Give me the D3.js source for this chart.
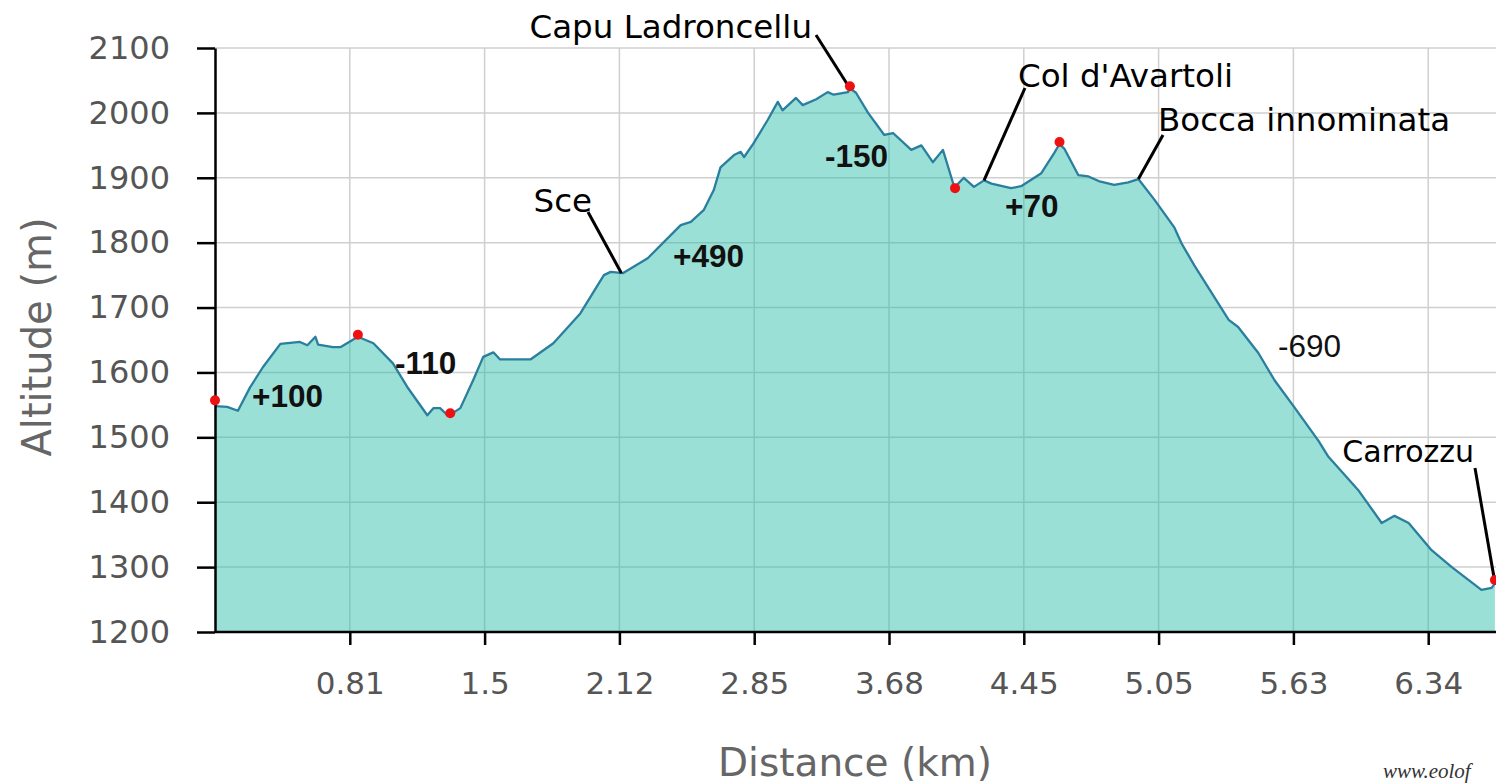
<!DOCTYPE html>
<meta charset="utf-8">
<style>
body { margin: 0; background: #fff; }
svg { display: block; }
</style>
<body>
<script src="https://d3js.org/d3.v7.min.js"></script>
<script>

// sample number along the track (20 samples between labelled ticks) and altitude (m)
var pt = [0, 1.8, 3.4, 5.2, 7.1, 9.7, 12.6, 13.7, 14.9, 15.3, 17.5, 18.6, 21.2, 23.5, 26.4, 28.5,
  31.5, 32.4, 33.4, 34.5, 34.9, 36.4, 38.3, 39.8, 41.3, 42.3, 46.8, 50.2, 54.2, 57.7, 58.7, 60.5,
  64.2, 69.1, 70.6, 72.5, 74.0, 75.0, 77.0, 78.0, 78.5, 79.9, 82.0, 83.5, 84.2, 86.2, 87.2, 89.2,
  90.9, 91.8, 93.9, 94.2, 95.1, 96.9, 99.3, 100.6, 103.3, 104.8, 106.5, 108.0, 109.5, 109.8, 111.1,
  112.6, 114.1, 115.2, 118.1, 119.6, 122.6, 124.5, 125.3, 126.0, 128.1, 129.6, 131.1, 133.4, 135.5,
  137.0, 139.4, 142.3, 143.4, 145.3, 146.4, 150.4, 151.8, 154.8, 157.2, 160.1, 163.7, 165.2, 169.6,
  173.1, 175.0, 177.1, 180.5, 183.5, 187.9, 189.4, 189.9];
var alt = [1548, 1547, 1541, 1577, 1608, 1644, 1647, 1642, 1655, 1643, 1639, 1639, 1655, 1645, 1614, 1578,
  1534, 1545, 1545, 1534, 1535, 1545, 1588, 1624, 1631, 1620, 1620, 1645, 1691, 1750, 1755, 1753,
  1776, 1827, 1832, 1850, 1881, 1916, 1935, 1940, 1932, 1953, 1989, 2017, 2004, 2023, 2012, 2021,
  2032, 2028, 2032, 2038, 2031, 2000, 1966, 1969, 1943, 1950, 1924, 1943, 1892, 1886, 1900,
  1886, 1896, 1891, 1884, 1887, 1907, 1938, 1952, 1945, 1904, 1902, 1895, 1889, 1893,
  1898, 1866, 1824, 1799, 1765, 1747, 1681, 1670, 1630, 1588, 1547, 1495, 1470, 1419,
  1368, 1379, 1368, 1326, 1300, 1265, 1268, 1275];

var tickPts = [20, 40, 60, 80, 100, 120, 140, 160, 180];
var tickKm = ["0.81", "1.5", "2.12", "2.85", "3.68", "4.45", "5.05", "5.63", "6.34"];
var altTicks = [1200, 1300, 1400, 1500, 1600, 1700, 1800, 1900, 2000, 2100];

// red markers
var markPt = [0, 21.2, 34.9, 94.2, 109.8, 125.3, 189.9];
var markAlt = [1557, 1658, 1537, 2041, 1884, 1955, 1280];

// named places
var placeNames = ["Capu Ladroncellu", "Sce", "Col d'Avartoli", "Bocca innominata", "Carrozzu"];
var placePt = [94.0, 60.3, 114.1, 137.0, 189.9];
var placeAlt = [2041, 1753, 1896, 1898, 1276];

// climb / descent between points
var segText = ["+100", "-110", "+490", "-150", "+70", "-690"];

var width = 1496, height = 784;

var svg = d3.select("body").append("svg")
    .attr("width", width)
    .attr("height", height);

var x = d3.scaleLinear().domain([0, 190]).range([215, 1495.6]);
var y = d3.scaleLinear().domain([1200, 2100]).range([632, 48]);

var data = pt.map(function(p, i) { return {p: p, a: alt[i]}; });

// grid
var grid = svg.append("g");
grid.selectAll(".gy").data(altTicks).enter().append("line")
    .attr("x1", 215).attr("x2", width)
    .attr("y1", function(d) { return y(d); }).attr("y2", function(d) { return y(d); })
    .attr("stroke", "#cfcfcf").attr("stroke-width", 1.5);
grid.selectAll(".gx").data(tickPts).enter().append("line")
    .attr("x1", function(d) { return x(d); }).attr("x2", function(d) { return x(d); })
    .attr("y1", y(2100)).attr("y2", y(1200))
    .attr("stroke", "#cfcfcf").attr("stroke-width", 1.5);

// area + line
var area = d3.area()
    .x(function(d) { return x(d.p); })
    .y0(y(1200))
    .y1(function(d) { return y(d.a); });
var line = d3.line()
    .x(function(d) { return x(d.p); })
    .y(function(d) { return y(d.a); });

svg.append("path").datum(data)
    .attr("d", area)
    .attr("fill", "rgb(40,189,168)")
    .attr("fill-opacity", 0.47);
svg.append("path").datum(data)
    .attr("d", line)
    .attr("fill", "none")
    .attr("stroke", "#2a7f9e")
    .attr("stroke-width", 2.3)
    .attr("stroke-linejoin", "round");

// axes
var yAxis = svg.append("g")
    .attr("transform", "translate(215,0)")
    .call(d3.axisLeft(y).tickValues(altTicks).tickFormat(d3.format("d"))
      .tickSize(18).tickSizeOuter(0).tickPadding(27));
var xAxis = svg.append("g")
    .attr("transform", "translate(0,632)")
    .call(d3.axisBottom(x).tickValues(tickPts).tickSize(13).tickSizeOuter(0).tickPadding(27)
      .tickFormat(function(d, i) { return tickKm[i]; }));
xAxis.select(".domain").attr("d", "M215,0H" + width);

[yAxis, xAxis].forEach(function(g) {
  g.select(".domain").attr("stroke", "#000").attr("stroke-width", 2.5);
  g.selectAll(".tick line").attr("stroke", "#000").attr("stroke-width", 2.5);
  g.selectAll(".tick text")
    .attr("font-family", "DejaVu Sans")
    .attr("font-size", 31)
    .attr("fill", "#555");
});
yAxis.selectAll(".tick text").attr("font-size", 32);

svg.append("text")
    .attr("transform", "translate(51,337) rotate(-90)")
    .attr("text-anchor", "middle")
    .attr("font-family", "DejaVu Sans")
    .attr("font-size", 40)
    .attr("fill", "#666")
    .text("Altitude (m)");
svg.append("text")
    .attr("x", 855).attr("y", 776)
    .attr("text-anchor", "middle")
    .attr("font-family", "DejaVu Sans")
    .attr("font-size", 39)
    .attr("fill", "#666")
    .text("Distance (km)");

// place labels with leader lines
var placeLayout = [
  {lx: 816, ly: 35, tx: 812, ty: 38, anchor: "end"},
  {lx: 588, ly: 212, tx: 592, ty: 212, anchor: "end"},
  {lx: 1025, ly: 88, tx: 1018, ty: 87, anchor: "start"},
  {lx: 1163, ly: 135, tx: 1158, ty: 131, anchor: "start"},
  {lx: 1475, ly: 468, tx: 1474, ty: 462, anchor: "end"}
];
placeNames.forEach(function(name, i) {
  var L = placeLayout[i];
  svg.append("line")
    .attr("x1", x(placePt[i])).attr("y1", y(placeAlt[i]))
    .attr("x2", L.lx).attr("y2", L.ly)
    .attr("stroke", "#000").attr("stroke-width", 3);
  svg.append("text")
    .attr("x", L.tx).attr("y", L.ty)
    .attr("text-anchor", L.anchor)
    .attr("font-family", "DejaVu Sans")
    .attr("font-size", i === 4 ? 30 : 32.5)
    .attr("fill", "#000")
    .text(name);
});

// markers
svg.selectAll(".mark").data(markPt).enter().append("circle")
    .attr("cx", function(d) { return x(d); })
    .attr("cy", function(d, i) { return y(markAlt[i]); })
    .attr("r", 5)
    .attr("fill", "#ee1111");

// climb / descent labels
var segLayout = [
  {x: 252, y: 407, w: "bold"},
  {x: 395, y: 374, w: "bold"},
  {x: 673, y: 267, w: "bold"},
  {x: 825, y: 167, w: "bold"},
  {x: 1005, y: 217, w: "bold"},
  {x: 1278, y: 357, w: "normal"}
];
segText.forEach(function(t, i) {
  svg.append("text")
    .attr("x", segLayout[i].x).attr("y", segLayout[i].y)
    .attr("font-family", "Liberation Sans, Arial")
    .attr("font-size", 31.5)
    .attr("font-weight", segLayout[i].w)
    .attr("fill", "#111")
    .text(t);
});

svg.append("text")
    .attr("x", 1383).attr("y", 778)
    .attr("font-family", "Liberation Serif")
    .attr("font-style", "italic")
    .attr("font-size", 21)
    .attr("fill", "#333")
    .text("www.eolof");

</script>
